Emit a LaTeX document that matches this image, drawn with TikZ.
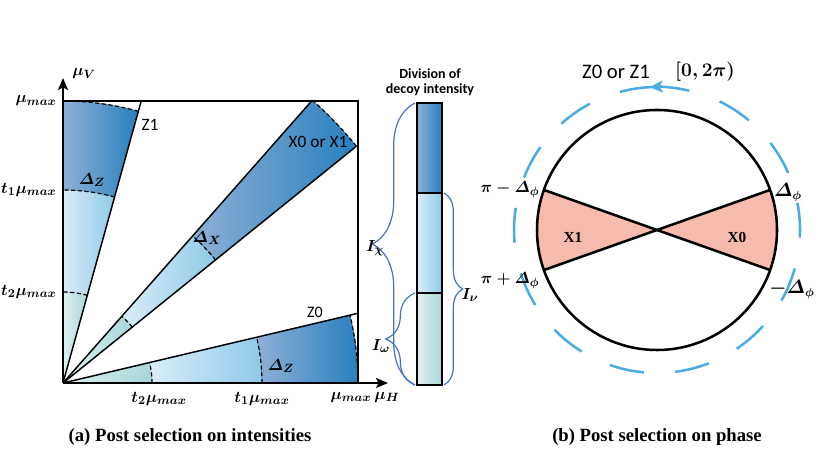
\documentclass[tikz,border=0pt]{standalone}
\usepackage{fontspec}
\usepackage{amsmath}
\usepackage{bm}
\usetikzlibrary{arrows.meta,decorations.pathreplacing}
\newfontfamily\sansfont{Carlito}
\newfontfamily\capfont{Liberation Serif}
\definecolor{mydarkblue}{RGB}{40,128,190}
\definecolor{mygreyblue}{RGB}{142,176,214}
\definecolor{mylightblue}{RGB}{142,202,232}
\definecolor{mypaleblue}{RGB}{218,237,248}
\definecolor{myteal}{RGB}{168,214,216}
\definecolor{mypaleteal}{RGB}{224,240,241}
\definecolor{mybrace}{RGB}{68,114,196}
\definecolor{mysky}{RGB}{75,172,228}
\definecolor{mypink}{RGB}{246,187,172}
\newcommand{\mx}[1]{$\bm{#1}$}
% one beam of intensities: start angle, end angle, t2 radius, t1 radius, outer radius
\newcommand{\beam}[5]{%
    \fill[tealband] (0,0) -- (#1:#3) arc[start angle=#1, end angle=#2, radius=#3] -- cycle;
    \fill[lightband] (#1:#3) -- (#1:#4) arc[start angle=#1, end angle=#2, radius=#4]
        -- (#2:#3) arc[start angle=#2, end angle=#1, radius=#3] -- cycle;
    \fill[darkband] (#1:#4) -- (#1:#5) arc[start angle=#1, end angle=#2, radius=#5]
        -- (#2:#4) arc[start angle=#2, end angle=#1, radius=#4] -- cycle;
    \foreach \r in {#3,#4,#5}
        \draw[tdash] (#1:\r) arc[start angle=#1, end angle=#2, radius=\r];
}
\tikzset{
    tealband/.style={left color=mypaleteal, right color=myteal},
    lightband/.style={left color=mypaleblue, right color=mylightblue},
    darkband/.style={left color=mygreyblue, right color=mydarkblue},
    tdash/.style={line width=0.9pt, dash pattern=on 3pt off 2pt},
    edge/.style={line width=1.1pt},
    axis/.style={line width=1.2pt, -{Stealth[length=9pt, width=7.5pt, inset=2pt]}},
    mlbl/.style={inner sep=1pt, font=\boldmath\fontsize{12.5}{14}\selectfont},
    slbl/.style={inner sep=1pt, font=\sansfont\fontsize{13}{15}\selectfont},
    bracket/.style={decorate, decoration={brace, amplitude=#1}, draw=mybrace, line width=0.9pt},
    ring/.style={draw=mysky, line width=1.9pt},
    caption/.style={font=\capfont\bfseries\fontsize{14}{16}\selectfont}
}
\begin{document}
\begin{tikzpicture}[x=0.75pt, y=0.75pt]
    \useasboundingbox (0,0) rectangle (830,467);

    % (a) intensities
    \coordinate (O) at (63,84);
    \begin{scope}[shift={(O)}]
        \beam{74.5}{90}{91}{193}{282}
        \beam{38.9}{48.6}{89}{196}{377}
        \beam{0}{13.3}{89}{199}{295}
    \end{scope}
    \path (O) ++(74.5:292.6) coordinate (z1end)
          (O) ++(48.6:377) coordinate (xup)
          (O) ++(38.9:377) coordinate (xlow)
          (O) ++(13.3:303) coordinate (z0end);
    \draw[edge] (O) -- (z1end);
    \draw[edge] (O) -- (xup);
    \draw[edge] (O) -- (xlow);
    \draw[edge] (O) -- (z0end);
    \coordinate (tl) at (63,366);
    \coordinate (tr) at (358,366);
    \coordinate (br) at (358,84);
    \draw[edge] (tl) -- (tr) -- (br);
    \draw[axis] (O) -- (63,389) coordinate (vtip);
    \draw[axis] (O) -- (388,84) coordinate (htip);

    \node[mlbl] (muv) at (84,393) {\mx{\mu_V}};
    \node[mlbl] (muh) at (387,70) {\mx{\mu_H}};
    \node[mlbl, anchor=east] (vmax) at (58,366) {\mx{\mu_{max}}};
    \node[mlbl, anchor=east] (vt1) at (58,277) {\mx{t_1\mu_{max}}};
    \node[mlbl, anchor=east] (vt2) at (58,175) {\mx{t_2\mu_{max}}};
    \node[mlbl] (ht2) at (159,68) {\mx{t_2\mu_{max}}};
    \node[mlbl] (ht1) at (262,68) {\mx{t_1\mu_{max}}};
    \node[mlbl] (hmax) at (351,70) {\mx{\mu_{max}}};
    \node[mlbl] (dz1) at (92,287) {\mx{\varDelta_Z}};
    \node[mlbl] (dx) at (207,229) {\mx{\varDelta_X}};
    \node[mlbl] (dz0) at (281,101) {\mx{\varDelta_Z}};
    \node[slbl] (z1) at (150,342) {Z1};
    \node[slbl] (x01) at (318,325) {X0 or X1};
    \node[slbl, font=\sansfont\fontsize{12}{14}\selectfont] (z0) at (315,155) {Z0};

    % decoy bar
    \fill[darkband] (417,274) rectangle (442,364);
    \fill[lightband] (417,174) rectangle (442,274);
    \fill[tealband] (417,82) rectangle (442,174);
    \draw[edge] (417,82) rectangle (442,364);
    \draw[edge] (417,174) -- (442,174) (417,274) -- (442,274);
    \node[align=center, inner sep=0pt, font=\sansfont\bfseries\fontsize{10.5}{11.3}\selectfont] (title) at (430,385) {Division of\\decoy intensity};
    \coordinate (bl) at (415,82);
    \coordinate (lt) at (415,364);
    \coordinate (lm) at (415,174);
    \coordinate (rb) at (444,82);
    \coordinate (rm) at (444,274);
    \draw[bracket=32] (bl) -- (lt);
    \draw[bracket=22] (bl) -- (lm);
    \draw[bracket=14] (rm) -- (rb);
    \node[mlbl] (ichi) at (375,219) {\mx{I_\chi}};
    \node[mlbl] (iomega) at (381,121) {\mx{I_\omega}};
    \node[mlbl] (inu) at (470,172) {\mx{I_\nu}};

    % (b) phase
    \coordinate (C) at (657,237);
    \fill[mypink] (C) -- ++(-19.5:120) arc[start angle=-19.5, end angle=19.5, radius=120] -- cycle;
    \fill[mypink] (C) -- ++(160.5:120) arc[start angle=160.5, end angle=199.5, radius=120] -- cycle;
    \path (C) ++(19.5:120) coordinate (pa)
          (C) ++(160.5:120) coordinate (pb)
          (C) ++(199.5:120) coordinate (pc)
          (C) ++(-19.5:120) coordinate (pd);
    \draw[line width=1.9pt] (pb) -- (pd);
    \draw[line width=1.9pt] (pc) -- (pa);
    \draw[line width=1.9pt] (C) circle (120);
    \foreach \i [evaluate=\i as \a using 118+26.55*\i] in {0,...,11}
        \draw[ring] (C) ++(\a:143) arc[start angle=\a, delta angle=14, radius=143];
    \draw[ring] (C) ++(92:143) arc[start angle=92, end angle=105, radius=143];
    \draw[ring, -{Stealth[length=10pt, width=9pt, inset=2.5pt]}] (C) ++(77:143) arc[start angle=77, end angle=93, radius=143];

    \node[mlbl, font=\boldmath\fontsize{13.5}{15}\selectfont] (dphi) at (788,274) {\mx{\varDelta_\phi}};
    \node[mlbl, font=\boldmath\fontsize{13.5}{15}\selectfont] (mdphi) at (792,177) {\mx{-\varDelta_\phi}};
    \node[mlbl, anchor=east] (pmd) at (541,277) {\mx{\pi-\varDelta_\phi}};
    \node[mlbl, anchor=east] (ppd) at (541,186) {\mx{\pi+\varDelta_\phi}};
    \node[font=\capfont\bfseries\fontsize{11.5}{13}\selectfont] (x1) at (573,230) {X1};
    \node[font=\capfont\bfseries\fontsize{11.5}{13}\selectfont] (x0) at (737,230) {X0};
    \node[slbl, font=\sansfont\fontsize{15.5}{17}\selectfont] (basis) at (616,395) {Z0 or Z1};
    \node[mlbl, font=\boldmath\fontsize{14}{16}\selectfont] (range) at (705,395) {\mx{[0,2\pi)}};

    \node[caption] (capa) at (190,30) {(a) Post selection on intensities};
    \node[caption] (capb) at (657,30) {(b) Post selection on phase};
\end{tikzpicture}
\end{document}
